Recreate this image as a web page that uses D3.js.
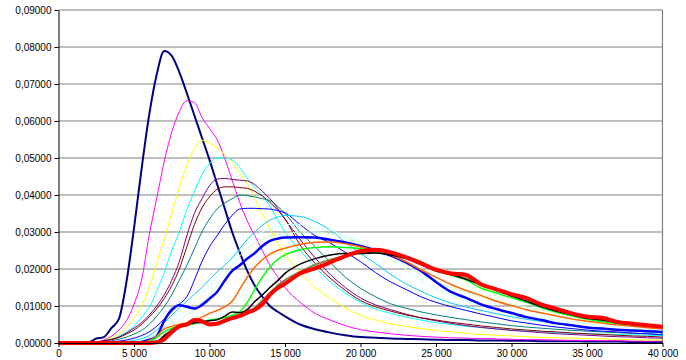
<!DOCTYPE html>
<html>
<head>
<meta charset="utf-8">
<script src="https://cdn.jsdelivr.net/npm/d3@7"></script>
<style>
  body { margin: 0; background: #fff; }
  text { font-family: "Liberation Sans", Arial, sans-serif; }
</style>
</head>
<body>
<div class="chart"></div>
<script>
// x positions shared by every series
var xs = [0,1000,2000,2500,3000,3500,4000,4500,5000,5500,
  6000,6500,7000,7500,8000,8500,9000,9500,10000,10500,
  11000,11500,12000,12500,13000,13500,14000,14500,15000,16000,
  17000,18000,19000,20000,21000,22000,23000,24000,25000,26000,
  27000,28000,29000,30000,31000,32000,33000,34000,35000,36000,
  37000,38000,39000,40000];

var sNavy = [0,0,0.0002,0.0012,0.0016,0.004,0.0065,0.0165,0.031,0.047,
  0.0615,0.0725,0.0789,0.0776,0.0732,0.0675,0.0615,0.0555,0.0495,0.043,
  0.0365,0.030,0.0245,0.0195,0.0155,0.0125,0.010,0.0085,0.0072,0.005,
  0.0037,0.0028,0.0021,0.0016,0.0014,0.0012,0.0011,0.001,0.0009,0.0008,
  0.0008,0.0007,0.0007,0.0006,0.0006,0.0005,0.0005,0.0005,0.0004,0.0004,
  0.0004,0.0003,0.0003,0.0003];
var sMagenta = [0,0,0.0001,0.0003,0.0008,0.0018,0.0035,0.006,0.0105,0.017,
  0.029,0.039,0.049,0.057,0.0625,0.0655,0.065,0.061,0.058,0.055,
  0.050,0.044,0.038,0.033,0.029,0.025,0.021,0.018,0.015,0.011,
  0.008,0.0062,0.0047,0.0036,0.003,0.0025,0.0021,0.0018,0.0016,0.0014,
  0.0013,0.0012,0.0011,0.001,0.0009,0.0009,0.0008,0.0007,0.0007,0.0006,
  0.0006,0.0005,0.0005,0.0005];
var sYellow = [0,0,0,0.0001,0.0005,0.0015,0.0025,0.0042,0.0068,0.010,
  0.015,0.0215,0.028,0.035,0.042,0.048,0.0525,0.0548,0.054,0.0528,
  0.051,0.049,0.046,0.043,0.039,0.035,0.031,0.027,0.024,0.019,
  0.015,0.012,0.0095,0.0075,0.0062,0.0052,0.0045,0.0039,0.0034,0.003,
  0.0026,0.0023,0.0021,0.0019,0.0017,0.0015,0.0014,0.0013,0.0012,0.0011,
  0.001,0.0009,0.0008,0.0008];
var sCyan = [0,0,0,0.0001,0.0004,0.001,0.0019,0.003,0.0045,0.007,
  0.0095,0.014,0.019,0.025,0.030,0.036,0.041,0.0455,0.0485,0.050,
  0.050,0.0495,0.0475,0.0445,0.042,0.040,0.037,0.0335,0.030,0.025,
  0.0205,0.0165,0.0135,0.011,0.0092,0.008,0.007,0.0062,0.0055,0.005,
  0.0045,0.0042,0.0038,0.0035,0.0032,0.003,0.0028,0.0026,0.0025,0.0024,
  0.0023,0.0022,0.0021,0.002];
var sPurple = [0,0,0,0.0002,0.0006,0.001,0.0016,0.0027,0.004,0.0055,
  0.0075,0.010,0.013,0.017,0.022,0.029,0.035,0.039,0.0425,0.0443,
  0.0445,0.0442,0.044,0.0438,0.0428,0.041,0.039,0.0365,0.0335,0.028,
  0.023,0.0185,0.015,0.0122,0.0103,0.009,0.0078,0.0068,0.006,0.0053,
  0.0047,0.0042,0.0038,0.0034,0.0031,0.0028,0.0025,0.0023,0.0021,0.0019,
  0.0017,0.0016,0.0014,0.0013];
var sDarkRed = [0,0,0,0.0002,0.0005,0.0009,0.0015,0.0024,0.0035,0.005,
  0.007,0.0092,0.012,0.0155,0.020,0.026,0.032,0.0365,0.0395,0.0415,
  0.0422,0.0422,0.042,0.0418,0.041,0.0397,0.038,0.036,0.0335,0.0265,
  0.0215,0.0175,0.0142,0.0115,0.0098,0.0086,0.0076,0.0068,0.0062,0.0056,
  0.0051,0.0046,0.0042,0.0038,0.0035,0.0032,0.003,0.0027,0.0025,0.0023,
  0.0021,0.0019,0.0018,0.0016];
var sTeal = [0,0,0,0.0001,0.0003,0.0006,0.001,0.0016,0.0024,0.0034,
  0.005,0.0072,0.0098,0.013,0.017,0.021,0.0255,0.030,0.0335,0.0362,
  0.0378,0.039,0.040,0.0398,0.0395,0.039,0.0385,0.037,0.035,0.030,
  0.026,0.0218,0.0178,0.0148,0.0125,0.0106,0.0094,0.0084,0.0076,0.0069,
  0.0063,0.0057,0.0052,0.0047,0.0043,0.004,0.0037,0.0034,0.0032,0.003,
  0.0028,0.0026,0.0025,0.0023];
var sBlue = [0,0,0,0,0.0001,0.0003,0.0005,0.0008,0.0013,0.002,
  0.003,0.0045,0.0065,0.0085,0.0105,0.0125,0.017,0.022,0.026,0.029,
  0.032,0.0345,0.0362,0.0364,0.0364,0.0363,0.0362,0.0358,0.0352,0.032,
  0.029,0.027,0.0245,0.022,0.019,0.0165,0.0145,0.0125,0.011,0.0098,
  0.0088,0.0078,0.0069,0.006,0.0054,0.0048,0.0043,0.0039,0.0035,0.0032,
  0.003,0.0027,0.0025,0.0022];
var sSky = [0,0,0,0,0,0.0001,0.0002,0.0004,0.0007,0.0012,
  0.002,0.0035,0.0055,0.0075,0.0095,0.0113,0.0132,0.015,0.0172,0.0192,
  0.021,0.023,0.0255,0.028,0.030,0.0318,0.0332,0.034,0.0345,0.0342,
  0.0328,0.0305,0.0272,0.0242,0.0215,0.0185,0.016,0.014,0.0122,0.0108,
  0.0097,0.0088,0.0079,0.0071,0.0064,0.0058,0.0052,0.0047,0.0043,0.004,
  0.0036,0.0033,0.003,0.0027];
var sPaleCyan = [0,0,0,0,0,0,0,0.0002,0.0004,0.0008,
  0.0015,0.0025,0.004,0.0055,0.0075,0.009,0.011,0.013,0.0155,0.0178,
  0.020,0.0225,0.025,0.027,0.029,0.030,0.031,0.0315,0.032,0.032,
  0.031,0.0305,0.029,0.0275,0.025,0.0225,0.020,0.017,0.0145,0.013,
  0.0115,0.010,0.009,0.0082,0.0075,0.0068,0.0062,0.0057,0.0052,0.0048,
  0.0044,0.004,0.0037,0.0035];
var sPaleGreen = [0,0,0,0,0,0,0,0,0.0003,0.0006,
  0.001,0.0018,0.003,0.0045,0.006,0.0075,0.009,0.011,0.013,0.0155,
  0.018,0.021,0.0235,0.0255,0.027,0.028,0.029,0.0293,0.0295,0.030,
  0.030,0.0295,0.0285,0.027,0.0255,0.0235,0.021,0.0185,0.0165,0.015,
  0.0137,0.0125,0.0115,0.0105,0.0097,0.0088,0.008,0.0073,0.0067,0.0061,
  0.0055,0.005,0.0045,0.004];
var sBlueBold = [0,0,0,0,0,0,0,0,0,0.0003,
  0.0008,0.0018,0.006,0.009,0.0102,0.0098,0.0093,0.0103,0.012,0.0138,
  0.0168,0.0195,0.021,0.0228,0.0243,0.0262,0.0276,0.0282,0.0285,0.0286,
  0.0285,0.0279,0.0272,0.0262,0.025,0.0236,0.0218,0.0195,0.0165,0.0138,
  0.0122,0.0104,0.0092,0.0081,0.007,0.0062,0.0053,0.0048,0.0042,0.0039,
  0.0036,0.0034,0.0032,0.003];
var sOrange = [0,0,0,0,0,0,0,0,0,0.0002,
  0.0006,0.0018,0.0038,0.0045,0.005,0.0055,0.006,0.007,0.008,0.0088,
  0.0098,0.0113,0.0145,0.0178,0.0205,0.0225,0.024,0.025,0.0256,0.0266,
  0.0272,0.0273,0.0268,0.026,0.025,0.0238,0.022,0.0198,0.0178,0.0158,
  0.0142,0.0128,0.0113,0.0101,0.009,0.0081,0.0073,0.0065,0.0059,0.0054,
  0.0049,0.0045,0.0041,0.0038];
var sGreen = [0,0,0,0,0,0,0,0,0,0,
  0.0004,0.0015,0.003,0.004,0.0045,0.0048,0.0052,0.0057,0.0062,0.0065,
  0.0068,0.0075,0.0085,0.011,0.0145,0.0178,0.0205,0.0225,0.0238,0.0252,
  0.0258,0.026,0.0258,0.0255,0.025,0.0243,0.0232,0.0215,0.0195,0.0183,
  0.017,0.0148,0.0135,0.0122,0.011,0.0095,0.0083,0.0073,0.0064,0.0058,
  0.0053,0.0049,0.0045,0.0042];
var sOlive = [0,0,0,0,0,0,0,0,0,0,
  0,0.0002,0.0015,0.003,0.0042,0.0048,0.0055,0.0055,0.0052,0.0055,
  0.0062,0.007,0.0076,0.0085,0.0095,0.0115,0.0135,0.0155,0.017,0.0192,
  0.0212,0.0225,0.0235,0.0243,0.0246,0.0242,0.0233,0.022,0.0197,0.0186,
  0.0175,0.016,0.0145,0.0131,0.0118,0.0103,0.009,0.0079,0.0069,0.0064,
  0.0057,0.0051,0.0047,0.0043];
var sBlack = [0,0,0,0,0,0,0,0,0,0,
  0,0.0003,0.002,0.0035,0.0045,0.005,0.0055,0.0058,0.006,0.0063,
  0.0072,0.0084,0.0082,0.009,0.0112,0.013,0.015,0.0168,0.0188,0.0213,
  0.0228,0.0238,0.0242,0.0242,0.0243,0.0238,0.0228,0.0213,0.0195,0.0185,
  0.0172,0.0157,0.0142,0.0127,0.0113,0.0098,0.0086,0.0076,0.0067,0.0062,
  0.0055,0.005,0.0046,0.0042];
var sRed = [0,0,0,0,0,0,0,0,0,0,
  0,0.0002,0.001,0.003,0.0045,0.005,0.0062,0.0059,0.005,0.0052,
  0.006,0.0067,0.0073,0.0082,0.009,0.0105,0.013,0.0148,0.016,0.0188,
  0.0202,0.0218,0.0235,0.0248,0.0252,0.0245,0.0232,0.0215,0.0198,0.0188,
  0.0184,0.0158,0.0145,0.0132,0.0121,0.0104,0.0092,0.008,0.0071,0.0068,
  0.0057,0.0052,0.0048,0.0044];

var xTicks = [0,5000,10000,15000,20000,25000,30000,35000,40000];
var yTicks = [0,0.01,0.02,0.03,0.04,0.05,0.06,0.07,0.08,0.09];

// series in drawing order (last on top)
var allSeries = [sNavy, sMagenta, sYellow, sCyan, sPurple, sDarkRed, sTeal, sBlue,
  sSky, sPaleCyan, sPaleGreen, sBlueBold, sOrange, sGreen, sOlive, sBlack, sRed];
var colors = ["#000080","#FF00FF","#FFFF00","#00FFFF","#800080","#800000","#008080","#0000FF",
  "#00CCFF","#CCFFFF","#CCFFCC","#0000FF","#FF6600","#00FF00","#808040","#000000","#FF0000"];
var widths = [2,1,1,1,1,1,1,1, 1,1,1,2.5,1.5,1.5,2,1.5,4];

var svgWidth = 686;
var svgHeight = 360;
var margin = { top: 10, right: 23.5, bottom: 17, left: 58.5 };
var width = svgWidth - margin.left - margin.right;
var height = svgHeight - margin.top - margin.bottom;

var svg = d3.select(".chart")
  .append("svg")
  .attr("width", svgWidth)
  .attr("height", svgHeight);

var chartGroup = svg.append("g")
  .attr("transform", `translate(${margin.left}, ${margin.top})`);

var xScale = d3.scaleLinear().domain([0, 40000]).range([0, width]);
var yScale = d3.scaleLinear().domain([0, 0.09]).range([height, 0]);

// gridlines
chartGroup.selectAll(".grid")
  .data(yTicks.slice(1))
  .enter()
  .append("line")
  .attr("x1", 0)
  .attr("x2", width)
  .attr("y1", d => yScale(d))
  .attr("y2", d => yScale(d))
  .attr("stroke", "#808080")
  .attr("stroke-width", 1.2);

// right border of plot area
chartGroup.append("line")
  .attr("x1", width).attr("x2", width)
  .attr("y1", 0).attr("y2", height)
  .attr("stroke", "#808080")
  .attr("stroke-width", 1.2);

var line = d3.line()
  .x((d, i) => xScale(xs[i]))
  .y(d => yScale(d))
  .curve(d3.curveMonotoneX);

chartGroup.selectAll(".series")
  .data(allSeries)
  .enter()
  .append("path")
  .attr("d", d => line(d))
  .attr("fill", "none")
  .attr("stroke", (d, i) => colors[i])
  .attr("stroke-width", (d, i) => widths[i])
  .attr("stroke-linejoin", "round");

// axes
var leftAxis = d3.axisLeft(yScale)
  .tickValues(yTicks)
  .tickSizeInner(4)
  .tickSizeOuter(0)
  .tickPadding(3)
  .tickFormat(d => d3.format(".5f")(d).replace(".", ","));

var bottomAxis = d3.axisBottom(xScale)
  .tickValues(xTicks)
  .tickSizeInner(4)
  .tickSizeOuter(0)
  .tickPadding(3)
  .tickFormat(d => d3.format(",")(d).replace(/,/g, " "));

var yAxis = chartGroup.append("g").call(leftAxis);
var xAxis = chartGroup.append("g")
  .attr("transform", `translate(0, ${height})`)
  .call(bottomAxis);

[yAxis, xAxis].forEach(function(ax) {
  ax.selectAll("text")
    .style("font-family", "'Liberation Sans', Arial, sans-serif")
    .style("font-size", "10px")
    .attr("fill", "#000");
  ax.select(".domain").attr("stroke", "#000");
  ax.selectAll(".tick line").attr("stroke", "#000");
});
</script>
</body>
</html>
